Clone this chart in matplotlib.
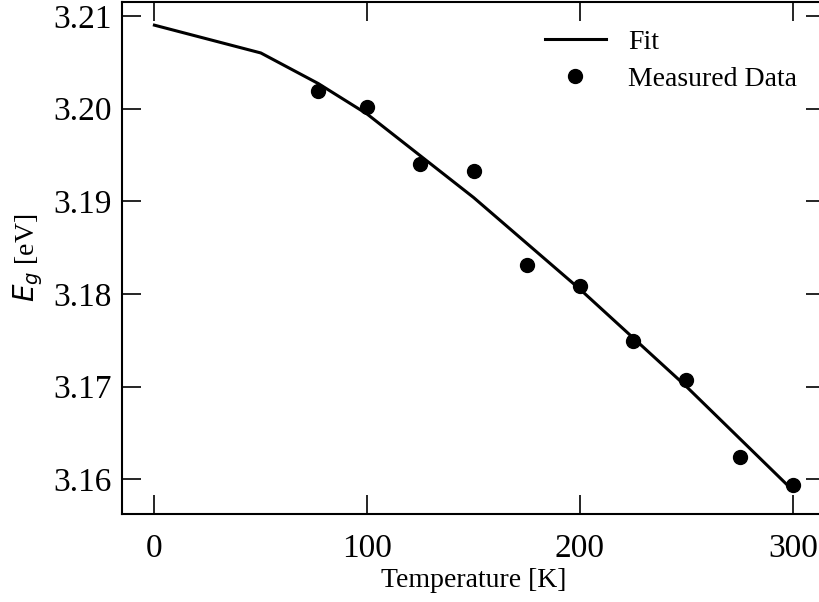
import matplotlib
matplotlib.use("Agg")
import matplotlib.pyplot as plt

plt.rcParams['font.family'] = ['Liberation Serif', 'DejaVu Serif']
plt.rcParams['mathtext.fontset'] = 'dejavusans'

fit_T = [0, 50, 77, 100, 150, 200, 250, 300]
fit_Eg = [3.2090, 3.2060, 3.2027, 3.1994, 3.1904, 3.1805, 3.1700, 3.1588]

meas_T = [77, 100, 125, 150, 175, 200, 225, 250, 275, 300]
meas_Eg = [3.2019, 3.2002, 3.1940, 3.1933, 3.1831, 3.1808, 3.1749, 3.1707, 3.1624, 3.1594]

xticks = [0, 100, 200, 300]
yticks = [3.16, 3.17, 3.18, 3.19, 3.20, 3.21]

W, H = 820, 602
fig = plt.figure(figsize=(W / 100, H / 100), dpi=100)
left, right, top, bottom = 122.5, 824.7, 1.9, 513.6
ax = fig.add_axes([left / W, (H - bottom) / H, (right - left) / W, (bottom - top) / H])

ax.plot(fit_T, fit_Eg, color='black', lw=2.2, label='Fit')
ax.plot(meas_T, meas_Eg, 'o', color='black', ms=10, label='Measured Data')

ax.set_xticks(xticks)
ax.set_yticks(yticks)
ax.set_yticklabels([f"{v:.2f}" for v in yticks])
ax.tick_params(direction='in', length=14, width=1.2, labelsize=24,
               top=True, right=True)
ax.tick_params(axis='y', pad=8)
ax.tick_params(axis='x', pad=14)
for s in ax.spines.values():
    s.set_linewidth(1.5)
ax.spines['right'].set_visible(False)

ax.set_xlabel('Temperature [K]', fontsize=20, labelpad=3)
ax.set_ylabel('$E_g$ [eV]', fontsize=20, labelpad=6)

ax.legend(loc='upper right', frameon=False, fontsize=20, handlelength=2.2,
          handletextpad=0.8, borderaxespad=0.6, labelspacing=0.4,
          bbox_to_anchor=(1.0, 1.0))

fig.savefig('out.png', dpi=100)
